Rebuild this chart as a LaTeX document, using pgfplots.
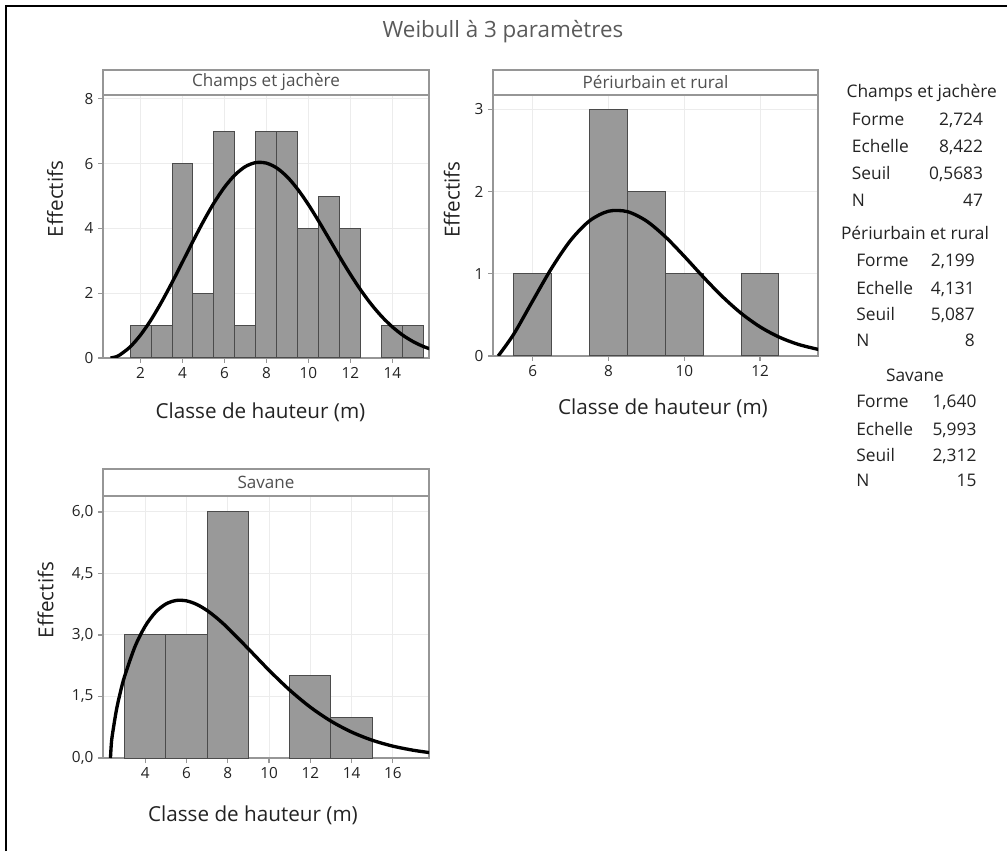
\documentclass[border=0pt]{standalone}
\usepackage{fontspec}
\setmainfont{Open Sans}
\usepackage{pgfplots}
\pgfplotsset{compat=1.18}
\definecolor{barfill}{RGB}{153,153,153}
\definecolor{baredge}{RGB}{75,75,75}
\definecolor{axgray}{RGB}{150,150,150}
\definecolor{gridgray}{RGB}{236,236,236}
\definecolor{txt}{RGB}{35,35,35}
\definecolor{hdrtxt}{RGB}{80,80,80}
\definecolor{titletxt}{RGB}{90,90,90}
\newlength\px
\setlength\px{0.75pt}
\pgfplotsset{
  panel/.style={
    scale only axis, anchor=south west,
    axis line style={axgray, line width=1.5\px},
    tick pos=left, tick align=outside,
    major tick length=5\px,
    every tick/.style={axgray, line width=1.2\px},
    grid=major,
    major grid style={draw=gridgray, line width=1\px},
    ticklabel style={font=\fontsize{11.5}{13}\selectfont, text=txt},
    /pgf/number format/assume math mode=true,
    label style={font=\fontsize{15.5}{18}\selectfont, text=txt},
    xlabel style={anchor=center},
    ylabel style={anchor=center},
  },
  bars/.style={ybar, fill=barfill, draw=baredge, line width=1\px},
  fit/.style={black, line width=2.5pt, smooth, no markers},
}
\begin{document}
\begin{tikzpicture}
\path[use as bounding box] (0,0) rectangle (755.25pt,638.25pt);

% ---------- Panel 1 : Champs et jachère ----------
\begin{axis}[panel, name=p1, at={(77.25pt,369.75pt)}, width=244.5pt, height=197.25pt,
  xmin=0.21, xmax=15.75, ymin=0, ymax=8.12,
  xtick={2,4,...,14}, ytick={0,2,...,8},
  xlabel={Classe de hauteur (m)}, ylabel={Effectifs},
  xlabel style={at={(axis description cs:0.483,-0.205)}},
  ylabel style={at={(axis description cs:-0.147,0.605)}}]
\addplot[bars, bar width=1] coordinates {
 (2,1) (3,1) (4,6) (5,2) (6,7) (7,1) (8,7) (9,7) (10,4) (11,5) (12,4) (14,1) (15,1)};
\addplot[fit] coordinates {
 (0.5683,0) (0.8,0.031) (1,0.0906) (1.5,0.3406) (2,0.7106) (2.5,1.1791) (3,1.7263)
 (3.5,2.3293) (4,2.9653) (4.5,3.6059) (5,4.2230) (5.5,4.7875) (6,5.2722) (6.5,5.6526)
 (7,5.9112) (7.5,6.0339) (8,6.0164) (8.5,5.8632) (9,5.5858) (9.5,5.2023) (10,4.7369)
 (10.5,4.2151) (11,3.6667) (11.5,3.1143) (12,2.5847) (12.5,2.0942) (13,1.6560)
 (13.5,1.2778) (14,0.9617) (14.5,0.7046) (15,0.5036) (15.5,0.3503) (16,0.2372)};
\end{axis}
\draw[axgray, line width=1.5\px, fill=white] (p1.north west) rectangle ++(244.5pt,18.75pt);
\node[text=hdrtxt, font=\fontsize{12.8}{14}\selectfont] at ([yshift=9.4pt]p1.north) {Champs et jachère};

% ---------- Panel 2 : Périurbain et rural ----------
\begin{axis}[panel, name=p2, at={(369.75pt,371.25pt)}, width=243.75pt, height=195.75pt,
  xmin=4.95, xmax=13.53, ymin=0, ymax=3.175,
  xtick={6,8,10,12}, ytick={0,1,2,3},
  xlabel={Classe de hauteur (m)}, ylabel={Effectifs},
  xlabel style={at={(axis description cs:0.523,-0.2)}},
  ylabel style={at={(axis description cs:-0.127,0.6)}}]
\addplot[bars, bar width=1] coordinates {
 (6,1) (8,3) (9,2) (10,1) (12,1)};
\addplot[fit] coordinates {
 (5.087,0) (5.5,0.2676) (6,0.6722) (6.5,1.0705) (7,1.4077) (7.5,1.6448) (8,1.7616)
 (8.5,1.7557) (9,1.6426) (9.5,1.4503) (10,1.2126) (10.5,0.9618) (11,0.7252)
 (11.5,0.5198) (12,0.3548) (12.5,0.2306) (13,0.1427) (13.5,0.0840) (13.6,0.0760)};
\end{axis}
\draw[axgray, line width=1.5\px, fill=white] (p2.north west) rectangle ++(243.75pt,18.75pt);
\node[text=hdrtxt, font=\fontsize{12.8}{14}\selectfont] at ([yshift=9.4pt]p2.north) {Périurbain et rural};

% ---------- Panel 3 : Savane ----------
\begin{axis}[panel, name=p3, at={(77.25pt,69.75pt)}, width=244.5pt, height=196.5pt,
  xmin=1.95, xmax=17.75, ymin=0, ymax=6.39,
  xtick={4,6,...,16}, ytick={0,1.5,3,4.5,6},
  yticklabel style={/pgf/number format/.cd, fixed, fixed zerofill, precision=1, use comma},
  xlabel={Classe de hauteur (m)}, ylabel={Effectifs},
  xlabel style={at={(axis description cs:0.46,-0.218)}},
  ylabel style={at={(axis description cs:-0.176,0.603)}}]
\addplot[bars, bar width=2] coordinates {
 (4,3) (6,3) (8,6) (12,2) (14,1)};
\addplot[fit] coordinates {
 (2.312,0) (2.35,0.3219) (2.4,0.5503) (2.6,1.1685) (2.8,1.6224) (3,1.9963) (3.5,2.7164)
 (4,3.2196) (4.5,3.5567) (5,3.7572) (5.5,3.8427) (6,3.8326) (6.5,3.7443) (7,3.5956)
 (7.5,3.3995) (8,3.1709) (9,2.6602) (10,2.1387) (11,1.6562) (12,1.2393) (13,0.8987)
 (14,0.6326) (15,0.4332) (16,0.2890) (17,0.1881) (17.8,0.1300)};
\end{axis}
\draw[axgray, line width=1.5\px, fill=white] (p3.north west) rectangle ++(244.5pt,20.25pt);
\node[text=hdrtxt, font=\fontsize{12.8}{14}\selectfont] at ([yshift=10.1pt]p3.north) {Savane};

% ---------- frame, title, legend ----------
\begin{scope}[x=0.75pt, y=0.75pt]
\draw[black, line width=1.9pt] (6,0) -- (6,845) -- (1007,845);
\node[text=titletxt, font=\fontsize{16.8}{19}\selectfont] at (503,819) {Weibull à 3 paramètres};
\begin{scope}[every node/.style={text=txt, font=\fontsize{13}{15}\selectfont, inner sep=0pt}]
\node[anchor=mid] at (921.7,757) {Champs et jachère};
\node[anchor=mid west] at (851.7,729.3) {Forme};   \node[anchor=mid east] at (983.3,729.3) {2,724};
\node[anchor=mid west] at (851.7,702)   {Echelle}; \node[anchor=mid east] at (983.3,702)   {8,422};
\node[anchor=mid west] at (851.7,675)   {Seuil};   \node[anchor=mid east] at (983.3,675)   {0,5683};
\node[anchor=mid west] at (851.7,648.3) {N};       \node[anchor=mid east] at (983.3,648.3) {47};
\node[anchor=mid] at (915,615.3) {Périurbain et rural};
\node[anchor=mid west] at (856,588.3) {Forme};   \node[anchor=mid east] at (975,588.3) {2,199};
\node[anchor=mid west] at (856,560.3) {Echelle}; \node[anchor=mid east] at (975,560.3) {4,131};
\node[anchor=mid west] at (856,534.3) {Seuil};   \node[anchor=mid east] at (975,534.3) {5,087};
\node[anchor=mid west] at (856,508.3) {N};       \node[anchor=mid east] at (975,508.3) {8};
\node[anchor=mid] at (915,472.7) {Savane};
\node[anchor=mid west] at (856,446.7) {Forme};   \node[anchor=mid east] at (976.7,446.7) {1,640};
\node[anchor=mid west] at (856,419.3) {Echelle}; \node[anchor=mid east] at (976.7,419.3) {5,993};
\node[anchor=mid west] at (856,392.7) {Seuil};   \node[anchor=mid east] at (976.7,392.7) {2,312};
\node[anchor=mid west] at (856,367.7) {N};       \node[anchor=mid east] at (976.7,367.7) {15};
\end{scope}
\end{scope}
\end{tikzpicture}
\end{document}
